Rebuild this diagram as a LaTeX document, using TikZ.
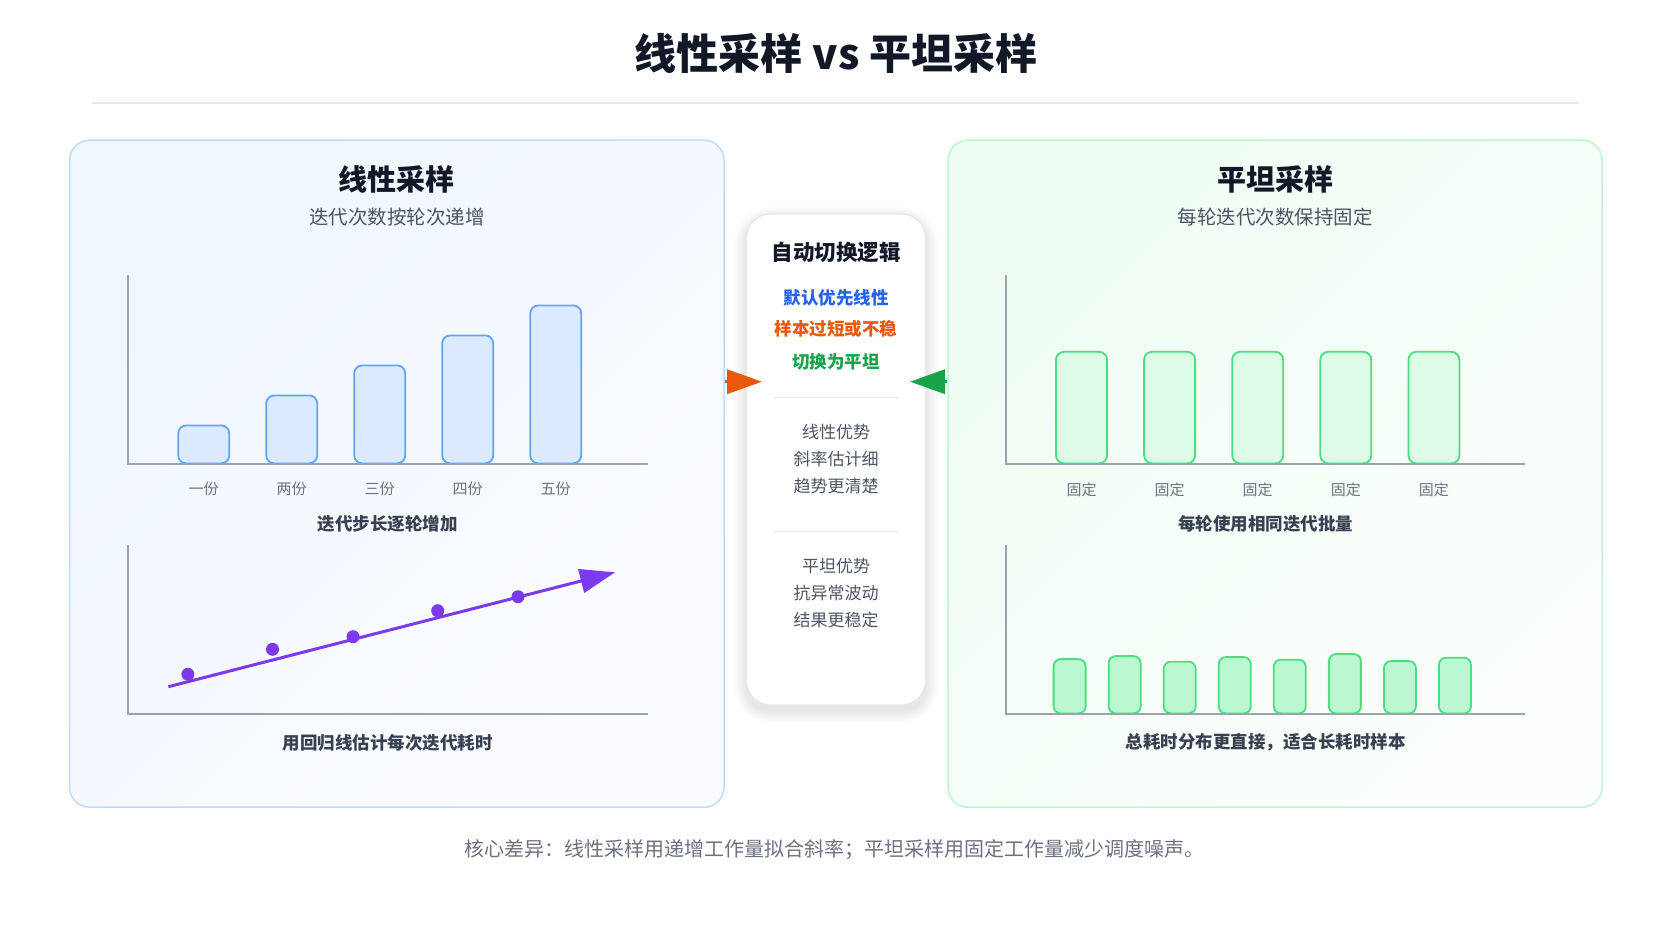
\documentclass[tikz,border=0pt]{standalone}
\usepackage{fontspec}
\setmainfont{Noto Sans CJK SC}
\usetikzlibrary{arrows.meta}
\definecolor{cDark}{HTML}{111827}
\definecolor{cSub}{HTML}{4B5563}
\definecolor{cCap}{HTML}{374151}
\definecolor{cLab}{HTML}{6B7280}
\definecolor{cRule}{HTML}{E5E7EB}
\definecolor{cAxis}{HTML}{9CA3AF}
\definecolor{cBlueB}{HTML}{BFDBFE}
\definecolor{cBlueT}{HTML}{EFF6FF}
\definecolor{cBlueE}{HTML}{FBFCFF}
\definecolor{cGreenB}{HTML}{BBF7D0}
\definecolor{cGreenT}{HTML}{EFFDF4}
\definecolor{cGreenE}{HTML}{FBFEFC}
\definecolor{cBarBF}{HTML}{DBEAFE}
\definecolor{cBarBD}{HTML}{60A5FA}
\definecolor{cBarGF}{HTML}{DCFCE7}
\definecolor{cBarGF2}{HTML}{BBF7D0}
\definecolor{cBarGD}{HTML}{4ADE80}
\definecolor{cPurple}{HTML}{7C3AED}
\definecolor{cBlue}{HTML}{2563EB}
\definecolor{cOrange}{HTML}{EA580C}
\definecolor{cGreen}{HTML}{16A34A}
\begin{document}
\begin{tikzpicture}[x=1pt,y=-1pt,
  ttl/.style={font=\fontsize{42}{50}\selectfont\bfseries, text=cDark},
  ptitle/.style={font=\fontsize{29}{34}\selectfont\bfseries, text=cDark},
  psub/.style={font=\fontsize{19.5}{24}\selectfont, text=cSub},
  blab/.style={font=\fontsize{15}{18}\selectfont, text=cLab},
  chartcap/.style={font=\fontsize{17.5}{21}\selectfont\bfseries, text=cCap},
  mtitle/.style={font=\fontsize{21.5}{26}\selectfont\bfseries, text=cDark},
  mhl/.style={font=\fontsize{17.5}{21}\selectfont\bfseries},
  mtxt/.style={font=\fontsize{17}{21}\selectfont, text=cSub},
  foot/.style={font=\fontsize{20}{24}\selectfont, text=cLab},
  panelL/.style={draw=cBlueB, line width=1.5pt, rounded corners=20pt, top color=cBlueT, bottom color=cBlueE, shading angle=45},
  panelR/.style={draw=cGreenB, line width=1.5pt, rounded corners=20pt, top color=cGreenT, bottom color=cGreenE, shading angle=45},
  axisline/.style={draw=cAxis, line width=2pt},
  lbar/.style={draw=cBarBD, fill=cBarBF, line width=1.8pt, rounded corners=8pt, minimum width=51pt, inner sep=0pt, anchor=south},
  gbar/.style={draw=cBarGD, fill=cBarGF, line width=1.8pt, rounded corners=8pt, minimum width=51pt, inner sep=0pt, anchor=south},
  gbarb/.style={draw=cBarGD, fill=cBarGF2, line width=1.8pt, rounded corners=7pt, minimum width=32pt, inner sep=0pt, anchor=south},
  dotp/.style={circle, fill=cPurple, minimum size=13pt, inner sep=0pt},
  trend/.style={draw=cPurple, line width=3pt, -{Triangle[length=35pt,width=24pt]}},
  oarrow/.style={draw=cOrange, line width=3.5pt, -{Triangle[length=35pt,width=24pt]}},
  garrow/.style={draw=cGreen, line width=3.5pt, -{Triangle[length=35pt,width=24pt]}},
  midbox/.style={draw=cRule, line width=1.2pt, fill=white, rounded corners=24pt, minimum width=179pt, minimum height=491pt, inner sep=0pt},
  sepline/.style={draw=cRule, line width=1.5pt}
]
\useasboundingbox[fill=white] (0,0) rectangle (1672,941);

% title
\node[ttl] (title) at (836,53) {线性采样 vs 平坦采样};
\draw[draw=cRule, line width=2pt] (92,103.3) -- (1579,103.3);

% panels
\node[panelL, minimum width=654.5pt, minimum height=667pt] (lp) at (396.75,473.7) {};
\node[panelR, minimum width=654pt, minimum height=667pt] (rp) at (1275,473.7) {};

% left panel
\node[ptitle] (lt) at (396.75,179.3) {线性采样};
\node[psub] (ls) at (396.75,216.7) {迭代次数按轮次递增};
\foreach \i/\h/\t in {1/38/一份,2/68/两份,3/98/三份,4/128/四份,5/158/五份}{
  \node[lbar, minimum height=\h pt] (lb\i) at ({203.7+88*(\i-1)},464.3) {};
  \node[blab] (ll\i) at ({203.7+88*(\i-1)},489.3) {\t};
}
\draw[axisline] (128,275) -- (128,464.3) -- (647.6,464.3);
\node[chartcap] (lc1) at (387.5,524.3) {迭代步长逐轮增加};

\draw[axisline] (128,545) -- (128,714.3) -- (647.6,714.3);
\coordinate (tstart) at (168.4,686.7);
\coordinate (tend) at (615,572.3);
\draw[trend] (tstart) -- (tend);
\node[dotp] (d1) at (187.9,674.3) {};
\node[dotp] (d2) at (272.5,649.3) {};
\node[dotp] (d3) at (353.1,636.7) {};
\node[dotp] (d4) at (437.7,610.7) {};
\node[dotp] (d5) at (518,596.7) {};
\node[chartcap] (lc2) at (387.5,742.7) {用回归线估计每次迭代耗时};

% right panel
\node[ptitle] (rt) at (1275,179.3) {平坦采样};
\node[psub] (rs) at (1275,216.7) {每轮迭代次数保持固定};
\foreach \i in {1,...,5}{
  \node[gbar, minimum height=111.6pt] (rb\i) at ({1081.5+88.1*(\i-1)},464.3) {};
  \node[blab] (rl\i) at ({1081.5+88.1*(\i-1)},489.3) {固定};
}
\draw[axisline] (1005.9,275) -- (1005.9,464.3) -- (1525.4,464.3);
\node[chartcap] (rc1) at (1265.7,524.3) {每轮使用相同迭代批量};

\foreach \i/\h in {1/54.3,2/57.3,3/51.7,4/56.3,5/53.7,6/59.3,7/52.3,8/55.7}{
  \node[gbarb, minimum height=\h pt] (rsb\i) at ({1069.6+55.05*(\i-1)},714.3) {};
}
\draw[axisline] (1005.9,545) -- (1005.9,714.3) -- (1525.4,714.3);
\node[chartcap] (rc2) at (1265.7,742.7) {总耗时分布更直接，适合长耗时样本};

% middle box shadow
\foreach \s in {1,2,...,12}{
  \fill[black, opacity=0.006, rounded corners=24pt+\s pt] (746.5-\s,214+5-\s) rectangle (925.5+\s,705+6+\s);
}
\node[midbox] (mid) at (836,459.5) {};
\node[mtitle] (mt) at (836,252.7) {自动切换逻辑};
\node[mhl, text=cBlue] (m1) at (836,297.7) {默认优先线性};
\node[mhl, text=cOrange] (m2) at (836,329.3) {样本过短或不稳};
\node[mhl, text=cGreen] (m3) at (836,361.7) {切换为平坦};
\draw[sepline] (774,397.7) -- (898,397.7);
\node[mtxt] (a1) at (836,432.3) {线性优势};
\node[mtxt] (a2) at (836,459) {斜率估计细};
\node[mtxt] (a3) at (836,485.7) {趋势更清楚};
\draw[sepline] (774,531.7) -- (898,531.7);
\node[mtxt] (b1) at (836,565.7) {平坦优势};
\node[mtxt] (b2) at (836,593.3) {抗异常波动};
\node[mtxt] (b3) at (836,620) {结果更稳定};

% arrows
\coordinate (otip) at (762,381.7);
\coordinate (gtip) at (910,381.7);
\draw[oarrow] (lp.east |- otip) -- (otip);
\draw[garrow] (rp.west |- gtip) -- (gtip);

% footer
\node[foot] (ft) at (834,850) {核心差异：线性采样用递增工作量拟合斜率；平坦采样用固定工作量减少调度噪声。};
\end{tikzpicture}
\end{document}
